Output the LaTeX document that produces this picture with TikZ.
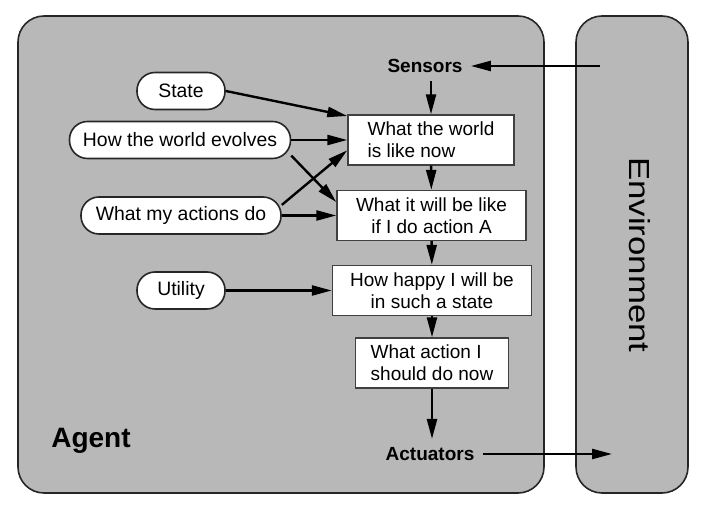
\documentclass[tikz,border=0pt]{standalone}
\usepackage{fontspec}
\setmainfont{Liberation Sans}
\usetikzlibrary{arrows.meta,positioning}

\begin{document}
\begin{tikzpicture}[
    x=0.5pt, y=-0.5pt,
    panel/.style={rectangle, draw=black!85, fill=black!28, line width=0.8pt, rounded corners=13pt},
    oval/.style={rectangle, draw=black!85, fill=white, line width=0.8pt, rounded corners=9pt, minimum height=18.5pt, inner xsep=2pt, font=\fontsize{9.7}{11}\selectfont},
    stage/.style={rectangle, draw=black!75, fill=white, line width=0.7pt, minimum height=25pt, inner xsep=3pt, inner ysep=1pt, font=\fontsize{9.5}{11}\selectfont},
    port/.style={font=\bfseries\fontsize{9.5}{11}\selectfont, inner sep=4pt},
    arr/.style={-{Triangle[length=10pt, width=5pt]}, line width=1.2pt},
  ]
    \useasboundingbox (0,0) rectangle (706,522);

    % Agent and environment panels
    \node[panel, minimum width=263pt, minimum height=238.5pt] (agent) at (281,254.5) {};
    \node[panel, minimum width=56pt, minimum height=238.5pt] (env) at (632,254.5) {};
    \node[font=\bfseries\fontsize{14}{16}\selectfont] (agentlabel) at (91,441) {Agent};
    \node[rotate=-90, xscale=1.2, font=\fontsize{14.5}{16}\selectfont] (envlabel) at (640,255) {Environment};

    % Sensors and actuators
    \node[port] (sensors) at (425,66) {Sensors};
    \node[port] (actuators) at (430,454) {Actuators};
    \coordinate (envin) at (600,66);
    \coordinate (envout) at (612,454);

    % Internal state boxes
    \node[stage, minimum width=83pt, align=left] (w1) at (431,140) {What the world\\is like now};
    \node[stage, minimum width=94.5pt, align=center] (w2) at (431.5,215.5) {What it will be like\\if I do action A};
    \node[stage, minimum width=99.5pt, align=center] (w3) at (432,290.5) {How happy I will be\\in such a state};
    \node[stage, minimum width=76.5pt, align=left] (w4) at (432,363) {What action I\\should do now};

    % Knowledge ovals
    \node[oval, minimum width=44pt] (state) at (181,91) {State};
    \node[oval, minimum width=110.5pt] (evolve) at (180,140) {How the world evolves};
    \node[oval, minimum width=100pt] (actions) at (181,215.5) {What my actions do};
    \node[oval, minimum width=44pt] (utility) at (181,290.5) {Utility};

    % Arrows
    \draw[arr] (envin) -- (sensors.east);
    \draw[arr] (sensors.south -| w1.north) -- (w1.north);
    \draw[arr] (w1) -- (w2);
    \draw[arr] (w2) -- (w3);
    \draw[arr] (w3) -- (w4);
    \draw[arr] (w4.south) -- (w4.south |- actuators.north);
    \draw[arr] (actuators.east) -- (envout);

    \draw[arr] (state.east) -- (w1.164);
    \draw[arr] (evolve.east) -- (w1.west);
    \draw[arr] (evolve.-8) -- (w2.172);
    \draw[arr] (actions.6) -- (w1.187);
    \draw[arr] (actions.east) -- (w2.west);
    \draw[arr] (utility.east) -- (w3.west);

  \end{tikzpicture}
\end{document}
